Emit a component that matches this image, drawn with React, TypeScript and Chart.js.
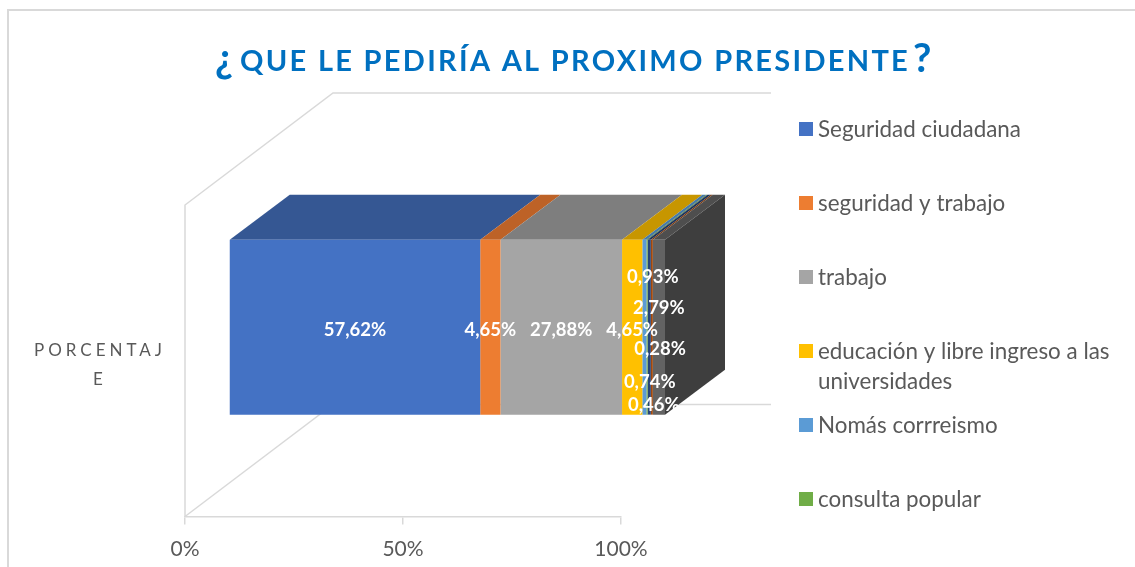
import React, { useEffect, useRef } from "react";
import { Chart, registerables } from "chart.js";

Chart.register(...registerables);

const categories = [["PORCENTAJ", "E"]];
const seriesNames = [
  "Seguridad ciudadana",
  "seguridad y trabajo",
  "trabajo",
  "educación y libre ingreso a las universidades",
  "Nomás corrreismo",
  "consulta popular",
  "otros 1",
  "otros 2",
  "otros 3",
];
const seriesValues = [57.62, 4.65, 27.88, 4.65, 0.93, 0.28, 0.74, 0.46, 2.79];
const tickValues = [0, 50, 100];

const frontColors = ["#4472C4", "#ED7D31", "#A5A5A5", "#FFC000", "#5B9BD5", "#70AD47", "#264478", "#9E480E", "#636363"];
const topColors = ["#355793", "#BD6227", "#7E7E7E", "#C79600", "#477AA8", "#578736", "#1D355E", "#7B380B", "#4E4E4E"];
const sideColor = "#3E3E3E";
const gridColor = "#D9D9D9";
const textColor = "#595959";
const titleColor = "#0070C0";

const FONT = "Lato, 'Noto Sans', sans-serif";
// manual data-label nudges, as in the original chart
const labelDx = [0, 0, 0, 0, 8.5, 13, 0.5, 2, 0];
const labelDy = [2, 2, 2, 2, -51, 21, 54, 77, -20];
const legendRows = [
  { y: 129, lines: ["Seguridad ciudadana"] },
  { y: 203, lines: ["seguridad y trabajo"] },
  { y: 277, lines: ["trabajo"] },
  { y: 351, lines: ["educación y libre ingreso a las", "universidades"] },
  { y: 425, lines: ["Nomás corrreismo"] },
  { y: 499, lines: ["consulta popular"] },
];

const SHIFT_X = 44;
const SHIFT_Y = -33.5;
const DEPTH_X = 60;
const DEPTH_Y = -45;

function poly(ctx: CanvasRenderingContext2D, pts: number[][], fill: string) {
  ctx.beginPath();
  pts.forEach((p, i) => (i ? ctx.lineTo(p[0], p[1]) : ctx.moveTo(p[0], p[1])));
  ctx.closePath();
  ctx.fillStyle = fill;
  ctx.fill();
}

const scene3d = {
  id: "scene3d",
  beforeDraw(chart: any) {
    const { ctx, width, height } = chart;
    ctx.save();
    ctx.fillStyle = "#FFFFFF";
    ctx.fillRect(0, 0, width, height);
    ctx.strokeStyle = gridColor;
    ctx.lineWidth = 2;
    ctx.beginPath();
    ctx.moveTo(width, 10);
    ctx.lineTo(8, 10);
    ctx.lineTo(8, height);
    ctx.stroke();

    ctx.textBaseline = "alphabetic";
    ctx.textAlign = "left";
    ctx.fillStyle = titleColor;
    ctx.font = `bold 40px ${FONT}`;
    ctx.fillText("¿", 215, 72);
    ctx.fillText("?", 913, 72);
    ctx.font = `bold 29px ${FONT}`;
    (ctx as any).letterSpacing = "2.3px";
    ctx.fillText("QUE LE PEDIRÍA AL PROXIMO PRESIDENTE", 240, 71);
    ctx.restore();

    ctx.save();
    ctx.textBaseline = "middle";
    ctx.textAlign = "left";
    ctx.font = `22.4px ${FONT}`;
    legendRows.forEach((row, i) => {
      ctx.fillStyle = frontColors[i];
      ctx.fillRect(799, row.y - 7, 14, 14);
      ctx.fillStyle = textColor;
      row.lines.forEach((line, j) => ctx.fillText(line, 818, row.y + 1 + j * 29.5));
    });
    ctx.restore();
  },
  afterLayout(chart: any) {
    const y = chart.scales.y;
    if (y.__spaced) return;
    y.__spaced = true;
    const original = y.drawLabels;
    y.drawLabels = function (area: any) {
      chart.ctx.save();
      chart.ctx.translate(0, 4);
      chart.ctx.letterSpacing = "4px";
      original.call(this, area);
      chart.ctx.restore();
    };
  },
  beforeDatasetsDraw(chart: any) {
    const { ctx, chartArea: a } = chart;
    ctx.save();
    const backX = SHIFT_X + DEPTH_X + SHIFT_X;
    const backY = SHIFT_Y + DEPTH_Y + SHIFT_Y;
    ctx.strokeStyle = gridColor;
    ctx.lineWidth = 1.5;
    ctx.beginPath();
    ctx.moveTo(a.left, a.bottom);
    ctx.lineTo(a.left, a.top);
    ctx.lineTo(a.left + backX, a.top + backY);
    ctx.lineTo(a.right + backX + 2, a.top + backY);
    ctx.moveTo(a.left, a.bottom);
    ctx.lineTo(a.left + backX, a.bottom + backY);
    ctx.lineTo(a.right + backX + 2, a.bottom + backY);
    ctx.stroke();

    ctx.translate(SHIFT_X, SHIFT_Y);
    const bars = chart.data.datasets.map((_: any, i: number) => chart.getDatasetMeta(i).data[0]);
    bars.forEach((b: any, i: number) => {
      const top = b.y - b.height / 2;
      poly(
        ctx,
        [
          [b.base, top],
          [b.x, top],
          [b.x + DEPTH_X, top + DEPTH_Y],
          [b.base + DEPTH_X, top + DEPTH_Y],
        ],
        topColors[i]
      );
    });
    const last = bars[bars.length - 1];
    const t = last.y - last.height / 2;
    const bt = last.y + last.height / 2;
    poly(
      ctx,
      [
        [last.x, t],
        [last.x + DEPTH_X, t + DEPTH_Y],
        [last.x + DEPTH_X, bt + DEPTH_Y],
        [last.x, bt],
      ],
      sideColor
    );
  },
  afterDatasetsDraw(chart: any) {
    const { ctx } = chart;
    ctx.font = `bold 18.5px ${FONT}`;
    ctx.fillStyle = "#FFFFFF";
    ctx.textAlign = "center";
    ctx.textBaseline = "middle";
    chart.data.datasets.forEach((ds: any, i: number) => {
      const b = chart.getDatasetMeta(i).data[0];
      const text = ds.data[0].toFixed(2).replace(".", ",") + "%";
      ctx.fillText(text, (b.x + b.base) / 2 + labelDx[i], b.y + labelDy[i] + 1);
    });
    ctx.restore();
  },
};

export default function App() {
  const ref = useRef<HTMLCanvasElement>(null);
  useEffect(() => {
    const chart = new Chart(ref.current!, {
      type: "bar",
      data: {
        labels: categories as any,
        datasets: seriesNames.map((label, i) => ({
          label,
          data: [seriesValues[i]],
          backgroundColor: frontColors[i],
          borderWidth: 0,
          clip: false as any,
          barPercentage: 0.561,
          categoryPercentage: 1,
        })),
      },
      options: {
        indexAxis: "y",
        responsive: false,
        animation: false,
        layout: { padding: { left: 0, right: 514, top: 205, bottom: 0 } },
        plugins: {
          legend: { display: false },
          title: { display: false },
          tooltip: { enabled: false },
        },
        scales: {
          x: {
            type: "linear",
            stacked: true,
            min: 0,
            max: 100,
            afterBuildTicks(axis: any) {
              axis.ticks = tickValues.map((value) => ({ value }));
            },
            afterFit(axis: any) {
              axis.height = 50.5;
              axis.paddingLeft = 0;
              axis.paddingRight = 0;
            },
            grid: { drawOnChartArea: false, color: gridColor, lineWidth: 1.5, tickLength: 8 },
            border: { color: gridColor, width: 1.5 },
            ticks: {
              color: textColor,
              font: { family: FONT, size: 21 },
              padding: 12,
              maxRotation: 0,
              callback: (v: any) => `${v}%`,
            },
          },
          y: {
            type: "category",
            stacked: true,
            afterFit(axis: any) {
              axis.width = 185;
              axis.paddingTop = 0;
              axis.paddingBottom = 0;
            },
            grid: { display: false },
            border: { display: false },
            ticks: {
              color: textColor,
              crossAlign: "center",
              padding: 29,
              font: { family: FONT, size: 17, lineHeight: 1.71 },
            },
          },
        },
      },
      plugins: [scene3d],
    } as any);
    return () => chart.destroy();
  }, []);
  return (
    <canvas
      ref={ref}
      width={1135}
      height={567}
      style={{ position: "absolute", left: 0, top: 0, width: 1135, height: 567, display: "block" }}
    />
  );
}
